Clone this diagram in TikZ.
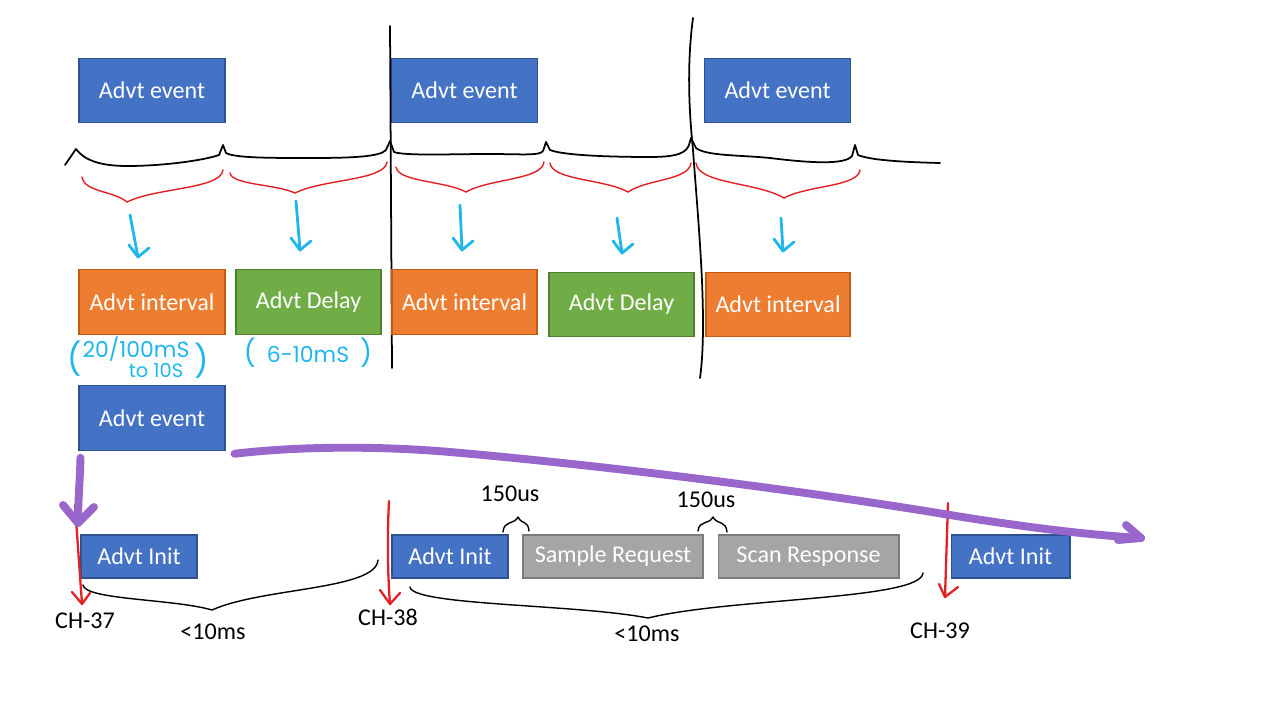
\documentclass[tikz,border=0pt]{standalone}
\usepackage{fontspec}
\usetikzlibrary{calc}
\setmainfont{Carlito}
\newfontfamily\handfont{Poppins}
\definecolor{myblue}{HTML}{4472C4}
\definecolor{blueborder}{HTML}{2F528F}
\definecolor{myorange}{HTML}{ED7D31}
\definecolor{orangeborder}{HTML}{C55A11}
\definecolor{mygreen}{HTML}{70AD47}
\definecolor{greenborder}{HTML}{507E32}
\definecolor{mygray}{HTML}{A5A5A5}
\definecolor{grayborder}{HTML}{7B7B7B}
\definecolor{mycyan}{HTML}{1FB6EE}
\definecolor{myred}{HTML}{E22124}
\definecolor{mypurple}{HTML}{9966CC}
\newcommand\mydnbrace[7]{\draw[#1] (#2,#3) .. controls ({#2+2},{#3+0.6*(#5-#3)}) and ({#4-0.3*(#4-#2)},{#5-0.45*(#5-#3)}) .. (#4,#5) .. controls ({#4+0.3*(#6-#4)},{#5-0.45*(#5-#7)}) and ({#6-2},{#7+0.6*(#5-#7)}) .. (#6,#7);}
\newcommand\myupbrace[7]{\draw[#1] (#2,#3) .. controls ({#2+1},{#5+3}) and ({#4-4},{#5+8}) .. (#4,#5) .. controls ({#4+4},{#5+8}) and ({#6-1},{#5+3}) .. (#6,#7);}
\newcommand\mycyarrow[4]{\draw[cyanpen] (#1,#2) -- (#3,#4); \draw[cyanpen] ({#3-9},{#4-12}) -- (#3,#4) -- ({#3+11},{#4-9});}
\begin{document}
\begin{tikzpicture}[x=0.02cm,y=-0.02cm,
  base/.style={rectangle, inner sep=0pt, text=white, line width=0.6pt, font=\fontsize{13.7}{16}\selectfont},
  bluebox/.style={base, fill=myblue, draw=blueborder},
  orangebox/.style={base, fill=myorange, draw=orangeborder},
  greenbox/.style={base, fill=mygreen, draw=greenborder},
  graybox/.style={base, fill=mygray, draw=grayborder},
  bigbox/.style={minimum width=2.92cm, minimum height=1.29cm},
  smallbox/.style={minimum height=0.86cm},
  lbl/.style={font=\fontsize{13.7}{16}\selectfont, text=black, inner sep=0pt},
  hand/.style={font=\handfont\fontsize{12.5}{14}\selectfont, text=mycyan, inner sep=0pt},
  cyanpen/.style={draw=mycyan, line width=1.6pt, line cap=round, line join=round},
  redpen/.style={draw=myred, line width=1.3pt, line cap=round, line join=round},
  purplepen/.style={draw=mypurple, line width=4.5pt, line cap=round, line join=round},
  blackpen/.style={draw=black, line width=1pt, line cap=round, line join=round},
  thinpen/.style={draw=black, line width=0.8pt, line cap=round, line join=round},
  redbrace/.style={draw=myred, line width=0.8pt, line cap=round}
]
\fill[white] (0,0) rectangle (1280,720);
\useasboundingbox (0,0) rectangle (1280,720);

% top row
\node[bluebox, bigbox] (ev1) at (152,90.5) {Advt event};
\node[bluebox, bigbox] (ev2) at (464.5,90.5) {Advt event};
\node[bluebox, bigbox] (ev3) at (777.5,90.5) {Advt event};

% timeline
\draw[blackpen] (65,165) -- (76,149) .. controls (84,160) and (100,166) .. (127,166) .. controls (165,166) and (205,160) .. (219,155) -- (223,145) -- (226,153) .. controls (235,158) and (270,158) .. (310,158) .. controls (350,158) and (380,157) .. (386,150) -- (390,141) -- (394,152) .. controls (405,156) and (450,154) .. (490,154) .. controls (520,154) and (540,156) .. (543,151) -- (546,142) -- (550,150) .. controls (565,156) and (620,157) .. (650,157) .. controls (680,157) and (686,152) .. (689,145) -- (691,138) -- (696,148) .. controls (706,156) and (740,155) .. (770,158) .. controls (810,163) and (845,165) .. (852,156) -- (855,145) -- (858,155) .. controls (870,160) and (900,162) .. (940,163);

% vertical separators
\draw[blackpen] (390,26) -- (392,368);
\draw[blackpen] (693,18) .. controls (686,70) and (690,120) .. (693,150) .. controls (698,220) and (708,320) .. (700,378);

% red braces
\mydnbrace{redbrace}{82}{177}{127}{202}{223}{170}
\mydnbrace{redbrace}{230}{173}{295}{193}{387}{162}
\mydnbrace{redbrace}{396}{167}{466}{192}{544}{162}
\mydnbrace{redbrace}{550}{163}{628}{192}{691}{163}
\mydnbrace{redbrace}{696}{163}{784}{198}{860}{170}

% cyan arrows
\mycyarrow{130}{215}{138}{257}
\mycyarrow{296}{201}{300}{250}
\mycyarrow{460}{205}{462}{250}
\mycyarrow{617}{218}{622}{253}
\mycyarrow{781}{218}{783}{251}

% second row
\node[orangebox, bigbox] (iv1) at (152,302) {Advt interval};
\node[greenbox, bigbox, minimum width=2.9cm] (dl1) at (308.5,302) {Advt Delay};
\node[orangebox, bigbox, minimum width=2.9cm] (iv2) at (464.5,302) {Advt interval};
\node[greenbox, bigbox, minimum width=2.9cm] (dl2) at (621.5,304.5) {Advt Delay};
\node[orangebox, bigbox, minimum width=2.88cm] (iv3) at (778,304.5) {Advt interval};

% handwritten notes
\node[hand, font=\handfont\fontsize{18}{18}\selectfont] (p1) at (75,359) {(};
\node[hand, anchor=base, text depth=0pt] (n1) at (136,357) {20/100mS};
\node[hand, anchor=base, text height=6pt, font=\handfont\fontsize{11}{12}\selectfont] (n2) at (156,377) {to 10S};
\node[hand, font=\handfont\fontsize{18}{18}\selectfont] (p2) at (202,361) {)};
\node[hand] (n3) at (308,353) {{\fontsize{15}{15}\selectfont(}\,\,\,6-10mS\,\,\,{\fontsize{15}{15}\selectfont)}};

% advt event
\node[bluebox, bigbox] (ev4) at (152,418) {Advt event};

% bottom row
\node[bluebox, smallbox, minimum width=2.32cm] (in1) at (139,556.5) {Advt Init};
\node[bluebox, smallbox, minimum width=2.32cm] (in2) at (450,556.5) {Advt Init};
\node[graybox, smallbox, minimum width=3.6cm] (sr) at (613,556.5) {Sample Request};
\node[graybox, smallbox, minimum width=3.62cm] (sc) at (808.5,556.5) {Scan Response};
\node[bluebox, smallbox, minimum width=2.38cm] (in3) at (1010.5,556.5) {Advt Init};

% red channel arrows
\coordinate (r1a) at (75,505); \coordinate (r1b) at (82,604);
\draw[redpen] (r1a) -- (r1b);
\draw[redpen] (72,592) -- (r1b) -- (90,593);
\coordinate (r2a) at (389,501); \coordinate (r2b) at (390,604);
\draw[redpen] (r2a) .. controls (387,540) and (388,580) .. (r2b);
\draw[redpen] (380,590) -- (r2b) -- (400,593);
\coordinate (r3a) at (948,503); \coordinate (r3b) at (945,597);
\draw[redpen] (r3a) -- (r3b);
\draw[redpen] (939,584) -- (r3b) -- (958,587);

% purple arrows
\coordinate (pd) at (78,523);
\draw[purplepen] ($(ev4.south west)+(2,7)$) .. controls (80,480) and (78,500) .. (pd);
\draw[purplepen] (63,505) -- (pd) -- (94,507);
\coordinate (pe) at (1141,538);
\draw[purplepen] ($(ev4.south east)+(9,3)$) .. controls (300,446) and (380,446) .. (450,452) .. controls (600,465) and (800,490) .. (950,515) .. controls (1030,528) and (1090,535) .. (pe);
\draw[purplepen] (1126,525) -- (pe) -- (1118,540);

% black braces
\mydnbrace{thinpen}{83}{585}{212}{610}{378}{560}
\mydnbrace{thinpen}{410}{587}{648}{618}{923}{573}
\myupbrace{thinpen}{503}{532}{518}{517}{529}{531}
\myupbrace{thinpen}{698}{531}{713}{517}{727}{532}

% labels
\node[lbl] (c37) at (85,621) {CH-37};
\node[lbl] (t1) at (213,632) {<10ms};
\node[lbl] (c38) at (388,617) {CH-38};
\node[lbl] (u1) at (510,494) {150us};
\node[lbl] (u2) at (706,500) {150us};
\node[lbl] (t2) at (647,634) {<10ms};
\node[lbl] (c39) at (940,631) {CH-39};
\end{tikzpicture}
\end{document}
